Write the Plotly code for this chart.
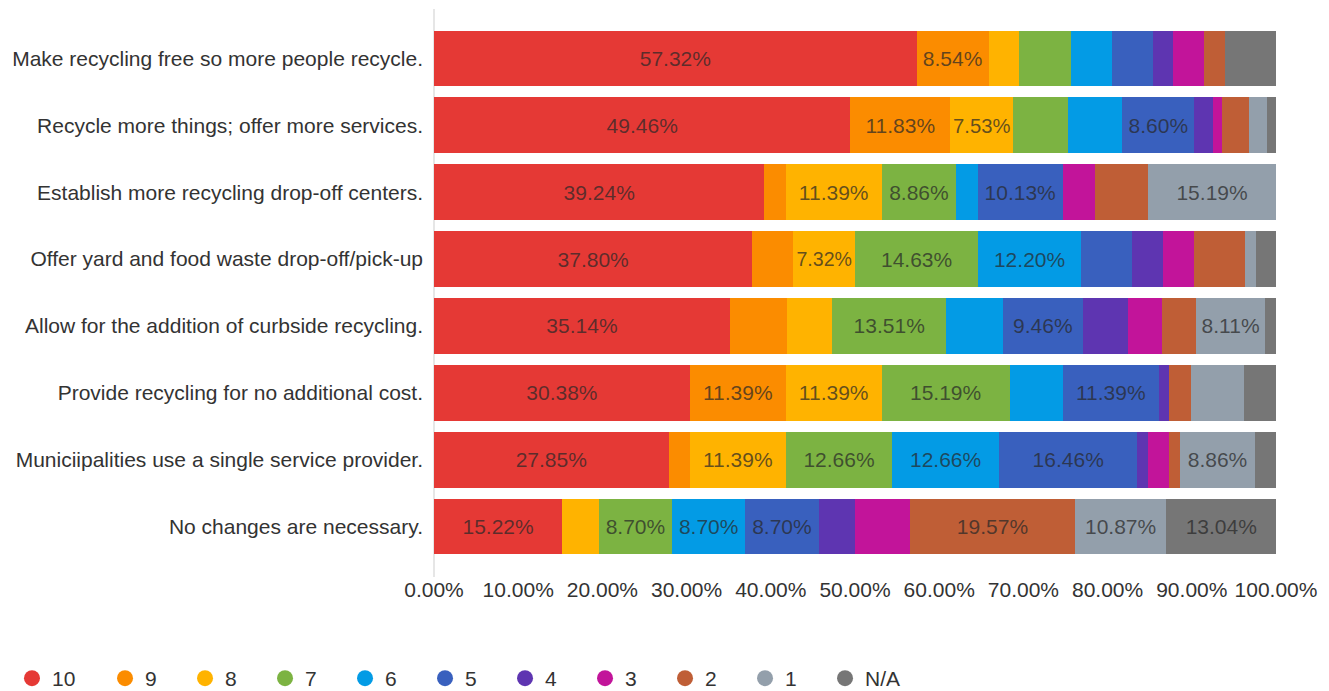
import plotly.graph_objects as go

categories = [
    "Make recycling free so more people recycle.",
    "Recycle more things; offer more services.",
    "Establish more recycling drop-off centers.",
    "Offer yard and food waste drop-off/pick-up",
    "Allow for the addition of curbside recycling.",
    "Provide recycling for no additional cost.",
    "Municiipalities use a single service provider.",
    "No changes are necessary.",
]

series_names = ["10", "9", "8", "7", "6", "5", "4", "3", "2", "1", "N/A"]

# percentages per rating, rows in category order (top to bottom)
s10 = [57.32, 49.46, 39.24, 37.80, 35.14, 30.38, 27.85, 15.22]
s9 = [8.54, 11.83, 2.53, 4.88, 6.76, 11.39, 2.53, 0.00]
s8 = [3.66, 7.53, 11.39, 7.32, 5.41, 11.39, 11.39, 4.35]
s7 = [6.10, 6.45, 8.86, 14.63, 13.51, 15.19, 12.66, 8.70]
s6 = [4.88, 6.45, 2.53, 12.20, 6.76, 6.33, 12.66, 8.70]
s5 = [4.88, 8.60, 10.13, 6.10, 9.46, 11.39, 16.46, 8.70]
s4 = [2.44, 2.15, 0.00, 3.66, 5.41, 1.27, 1.27, 4.35]
s3 = [3.66, 1.08, 3.80, 3.66, 4.05, 0.00, 2.53, 6.52]
s2 = [2.44, 3.23, 6.33, 6.10, 4.05, 2.53, 1.27, 19.57]
s1 = [0.00, 2.15, 15.19, 1.22, 8.11, 6.33, 8.86, 10.87]
sNA = [6.10, 1.08, 0.00, 2.44, 1.35, 3.80, 2.53, 13.04]

series_values = [s10, s9, s8, s7, s6, s5, s4, s3, s2, s1, sNA]

colors = ["#E53935", "#FB8C00", "#FFB300", "#7CB342", "#039BE5", "#3960BE",
          "#5E35B1", "#C2149A", "#BF5E36", "#939FAB", "#767676"]

tick_vals = [0, 10, 20, 30, 40, 50, 60, 70, 80, 90, 100]
tick_text = ["0.00%", "10.00%", "20.00%", "30.00%", "40.00%", "50.00%",
             "60.00%", "70.00%", "80.00%", "90.00%", "100.00%"]

FONT = "Liberation Sans, Arial, sans-serif"
FS = 21

fig = go.Figure()
for name, vals, col in zip(series_names, series_values, colors):
    fig.add_trace(go.Bar(
        y=categories, x=vals, orientation="h", name=name,
        marker=dict(color=col, line=dict(width=0)),
        text=[f"{v:.2f}%" if v >= 7 else "" for v in vals],
        textposition="inside", insidetextanchor="middle", textangle=0,
        textfont=dict(family=FONT, size=FS, color="rgba(40,40,40,0.72)"),
        showlegend=False, hoverinfo="x+y+name",
    ))

# legend entries with circle symbols
for i, (name, col) in enumerate(zip(series_names, colors)):
    fig.add_trace(go.Scatter(
        x=[None], y=[None], mode="markers", name=name,
        marker=dict(color=col, size=16, symbol="circle"),
        legend="legend" if i == 0 else "legend2",
        showlegend=True,
    ))

fig.update_layout(
    width=1329, height=691,
    barmode="stack", bargap=0.165,
    plot_bgcolor="white", paper_bgcolor="white",
    margin=dict(l=426, r=61, t=17, b=139, autoexpand=False),
    font=dict(family=FONT, size=FS, color="#333333"),
    xaxis=dict(range=[0, 100], tickvals=tick_vals, ticktext=tick_text,
               showgrid=False, zeroline=False, showline=False,
               ticks="", ticklabelstandoff=15, fixedrange=True,
               automargin=False,
               tickfont=dict(size=FS, color="#333333")),
    yaxis=dict(categoryorder="array", categoryarray=categories[::-1],
               showgrid=False, zeroline=False, automargin=False,
               showline=False, ticks="", ticklabelstandoff=10,
               tickfont=dict(size=FS, color="#333333")),
    legend=dict(orientation="h", xref="container", yref="container",
                x=0.003, y=-0.003, xanchor="left", yanchor="bottom",
                font=dict(size=FS, color="#333333"), itemsizing="trace"),
    legend2=dict(orientation="h", xref="container", yref="container",
                 x=0.073, y=-0.003, xanchor="left", yanchor="bottom",
                 entrywidth=35, entrywidthmode="pixels",
                 font=dict(size=FS, color="#333333"), itemsizing="trace"),
    showlegend=True,
)

# thin light vertical axis line at the left of the plot area
fig.add_shape(type="line", xref="paper", yref="paper",
              x0=0, x1=0, y0=-0.032, y1=1.03,
              line=dict(color="#E6E6E6", width=2), layer="below")

fig.write_html("out.html")
